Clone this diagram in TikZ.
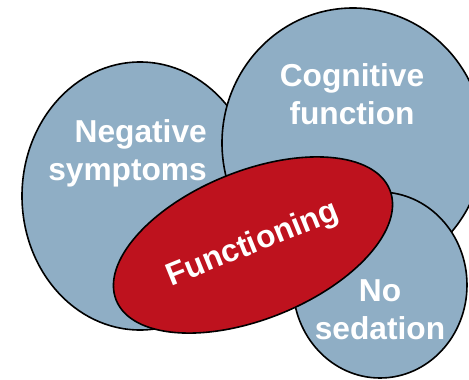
\documentclass[tikz,border=0pt]{standalone}
\usepackage{fontspec}
\setmainfont{Liberation Sans}
\usetikzlibrary{shapes.geometric}
\definecolor{bubblegray}{RGB}{143,174,197}
\definecolor{corered}{RGB}{190,18,30}

\begin{document}
\begin{tikzpicture}[x=1pt,y=-1pt,
  bubble/.style={ellipse,draw=black,line width=1.6pt,fill=bubblegray,inner sep=0pt},
  core/.style={ellipse,draw=black,line width=1.6pt,fill=corered,inner sep=0pt},
  label/.style={text=white,inner sep=0pt,font=\fontsize{31.7}{38}\selectfont\bfseries}]
\useasboundingbox [fill=white] (0,0) rectangle (469,380);
\node [bubble,minimum width=236pt,minimum height=268pt] (neg) at (140,196) {};
\node [bubble,minimum width=262pt,minimum height=270pt] (cog) at (353,143) {};
\node [bubble,minimum width=174pt,minimum height=186pt] (sed) at (380,285) {};
\node [core,label,minimum width=295pt,minimum height=148pt,rotate=22] (func) at (253,245) {Functioning};
\node [label,align=right,anchor=east] (negtext) at (207,153) {Negative\\symptoms};
\node [label,align=center] (cogtext) at (352,94) {Cognitive\\function};
\node [label,align=center] (sedtext) at (380,310) {No\\sedation};
\end{tikzpicture}
\end{document}
